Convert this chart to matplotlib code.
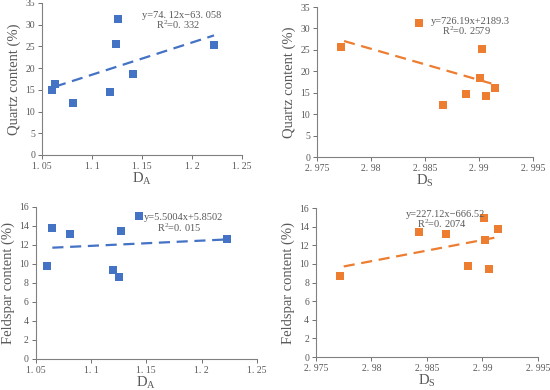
import numpy as np
import matplotlib
matplotlib.use("Agg")
import matplotlib.pyplot as plt

plt.rcParams['font.family'] = ['Liberation Serif', 'DejaVu Serif']
plt.rcParams['mathtext.default'] = 'regular'

# Data
da_quartz = [1.060, 1.063, 1.081, 1.118, 1.124, 1.126, 1.141, 1.222]
quartz_a = [15.0, 16.3, 12.0, 14.4, 25.6, 31.3, 18.6, 25.3]

ds_quartz = [2.9772, 2.9844, 2.9867, 2.9888, 2.9901, 2.9903, 2.9906, 2.9915]
quartz_s = [25.6, 31.3, 12.1, 14.8, 18.5, 25.2, 14.3, 16.2]

da_feld = [1.060, 1.065, 1.081, 1.120, 1.125, 1.127, 1.143, 1.223]
feld_a = [9.8, 13.8, 13.2, 9.4, 8.6, 13.5, 15.0, 12.6]

ds_feld = [2.9772, 2.9843, 2.9867, 2.9887, 2.9901, 2.9902, 2.9906, 2.9914]
feld_s = [8.7, 13.4, 13.2, 9.8, 14.9, 12.6, 9.5, 13.8]

# trend line coefficients (slope, intercept) as printed on the chart
fit_qa = (74.12, -63.058)
fit_qs = (-726.19, 2189.3)
fit_fa = (5.5004, 5.8502)
fit_fs = (227.12, -666.52)

da_ticks = [1.05, 1.1, 1.15, 1.2, 1.25]
da_labels = ['1. 05', '1. 1', '1. 15', '1. 2', '1. 25']
ds_ticks = [2.975, 2.98, 2.985, 2.99, 2.995]
ds_labels = ['2. 975', '2. 98', '2. 985', '2. 99', '2. 995']

blue = '#4472C4'
orange = '#ED7D31'
grey = '#595959'

fig = plt.figure(figsize=(5.5, 3.9), dpi=100)


def panel(rect, x, y, fit, color, xticks, xlabels, xlabel, ylabel, yticks, eq, r2, txt_xy, line_range):
    ax = fig.add_axes(rect)
    ax.scatter(x, y, marker='s', s=26, color=color, zorder=3, linewidths=0)
    xs = np.array(line_range)
    ax.plot(xs, fit[0] * xs + fit[1], '--', color=color, lw=1.6, dashes=(5, 3))
    ax.set_xlim(xticks[0], xticks[-1])
    ax.set_xticks(xticks)
    ax.set_xticklabels(xlabels)
    ax.set_ylim(yticks[0], yticks[-1])
    ax.set_yticks(yticks)
    for s in ['top', 'right']:
        ax.spines[s].set_visible(False)
    for s in ['left', 'bottom']:
        ax.spines[s].set_color('#808080')
        ax.spines[s].set_linewidth(0.8)
    ax.tick_params(labelsize=7, colors=grey, length=3, width=0.6, direction='out', pad=2)
    ax.set_xlabel(xlabel, fontsize=10.5, color=grey, labelpad=0)
    ax.set_ylabel(ylabel, fontsize=10.5, color=grey, labelpad=3)
    ax.text(txt_xy[0], txt_xy[1], eq, transform=ax.transAxes, fontsize=7.5,
            color=grey, ha='center', va='center')
    ax.text(txt_xy[0] - 0.02, txt_xy[1] - 0.065, r2, transform=ax.transAxes, fontsize=7.5,
            color=grey, ha='center', va='center')
    return ax


panel([0.0764, 0.6026, 0.3636, 0.39], da_quartz, quartz_a, fit_qa, blue,
      da_ticks, da_labels, 'D$_A$', 'Quartz content (%)', list(range(0, 36, 5)),
      'y=74. 12x\u221263. 058', 'R$^2$=0. 332', (0.70, 0.92), (1.063, 1.222))

panel([0.5764, 0.597, 0.393, 0.385], ds_quartz, quartz_s, fit_qs, orange,
      ds_ticks, ds_labels, 'D$_S$', 'Quartz content (%)', list(range(0, 36, 5)),
      'y=726.19x+2189.3', 'R$^2$=0. 2579', (0.71, 0.905), (2.9775, 2.9915))

panel([0.065, 0.0795, 0.402, 0.39], da_feld, feld_a, fit_fa, blue,
      da_ticks, da_labels, 'D$_A$', 'Feldspar content (%)', list(range(0, 17, 2)),
      'y=5.5004x+5.8502', 'R$^2$=0. 015', (0.67, 0.93), (1.065, 1.223))

panel([0.5745, 0.0845, 0.4036, 0.382], ds_feld, feld_s, fit_fs, orange,
      ds_ticks, ds_labels, 'D$_S$', 'Feldspar content (%)', list(range(0, 17, 2)),
      'y=227.12x\u2212666.52', 'R$^2$=0. 2074', (0.585, 0.96), (2.9775, 2.9912))

fig.savefig('out.png', dpi=100)
